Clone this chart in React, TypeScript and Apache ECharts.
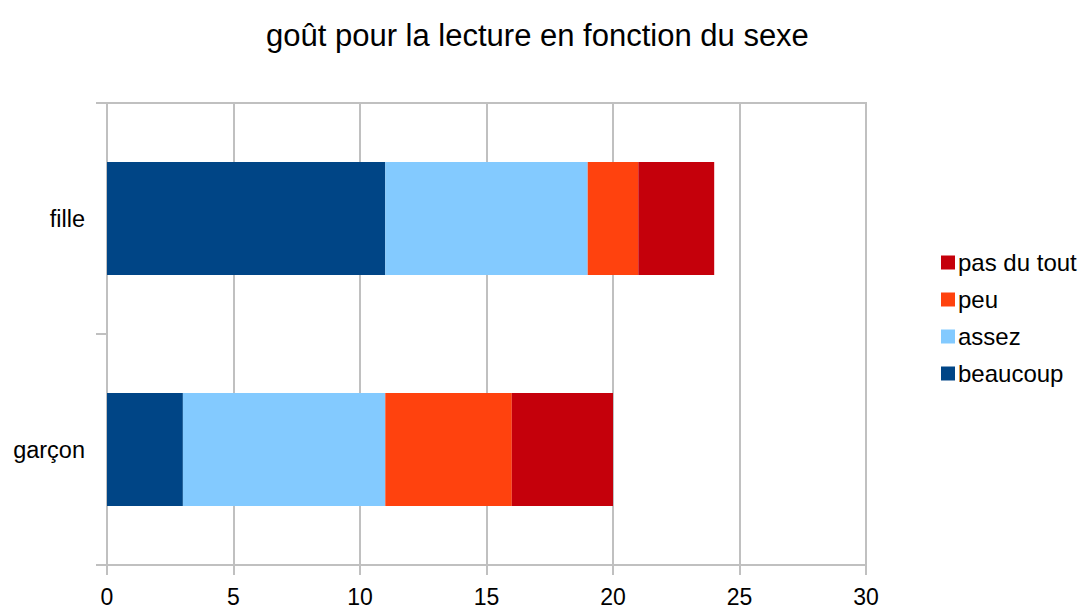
import React, { useEffect, useRef } from "react";
import * as echarts from "echarts";

const categories = ["garçon", "fille"];
const beaucoup = [3, 11];
const assez = [8, 8];
const peu = [5, 2];
const pasDuTout = [4, 3];
const legendOrder = ["pas du tout", "peu", "assez", "beaucoup"];
const xTicks = { min: 0, max: 30, interval: 5 };

const FONT = '"Liberation Sans", Arial, sans-serif';
const GRID_COLOR = "#c0c0c0";

export default function App() {
  const ref = useRef<HTMLDivElement>(null);
  useEffect(() => {
    if (!ref.current) return;
    const chart = echarts.init(ref.current, null, { renderer: "svg" });
    const mk = (name: string, data: number[], color: string) => ({
      name,
      type: "bar",
      stack: "total",
      data,
      barCategoryGap: "51%",
      itemStyle: { color },
      emphasis: { disabled: true },
    });
    chart.setOption({
      animation: false,
      backgroundColor: "#ffffff",
      textStyle: { fontFamily: FONT },
      title: {
        text: "goût pour la lecture en fonction du sexe",
        left: 261,
        top: 15,
        textStyle: { fontFamily: FONT, fontSize: 31, fontWeight: "normal", color: "#000000" },
      },
      legend: {
        orient: "vertical",
        left: 936,
        top: 245,
        itemWidth: 14,
        itemHeight: 14,
        itemGap: 12,
        icon: "rect",
        data: legendOrder,
        textStyle: { fontFamily: FONT, fontSize: 24, color: "#000000", lineHeight: 25, padding: [0, 0, 0, -2] },
      },
      grid: {
        left: 107,
        right: 220,
        top: 103,
        bottom: 48,
        show: true,
        borderColor: GRID_COLOR,
        borderWidth: 2,
      },
      xAxis: {
        type: "value",
        min: xTicks.min,
        max: xTicks.max,
        interval: xTicks.interval,
        axisLine: { show: true, lineStyle: { color: GRID_COLOR, width: 2 } },
        axisTick: { show: true, length: 10, lineStyle: { color: GRID_COLOR, width: 2 } },
        splitLine: { show: true, lineStyle: { color: GRID_COLOR, width: 2 } },
        axisLabel: { fontFamily: FONT, fontSize: 23, color: "#000000", margin: 20 },
      },
      yAxis: {
        type: "category",
        data: categories,
        axisLine: { show: true, lineStyle: { color: GRID_COLOR, width: 2 } },
        axisTick: { show: true, length: 11, lineStyle: { color: GRID_COLOR, width: 2 } },
        splitLine: { show: false },
        axisLabel: { fontFamily: FONT, fontSize: 23.5, color: "#000000", margin: 22 },
      },
      series: [
        mk("beaucoup", beaucoup, "#004586"),
        mk("assez", assez, "#83caff"),
        mk("peu", peu, "#ff420e"),
        mk("pas du tout", pasDuTout, "#c5000b"),
      ],
    });
    return () => chart.dispose();
  }, []);
  return <div ref={ref} style={{ width: 1086, height: 613, position: "absolute", left: 0, top: 0 }} />;
}
